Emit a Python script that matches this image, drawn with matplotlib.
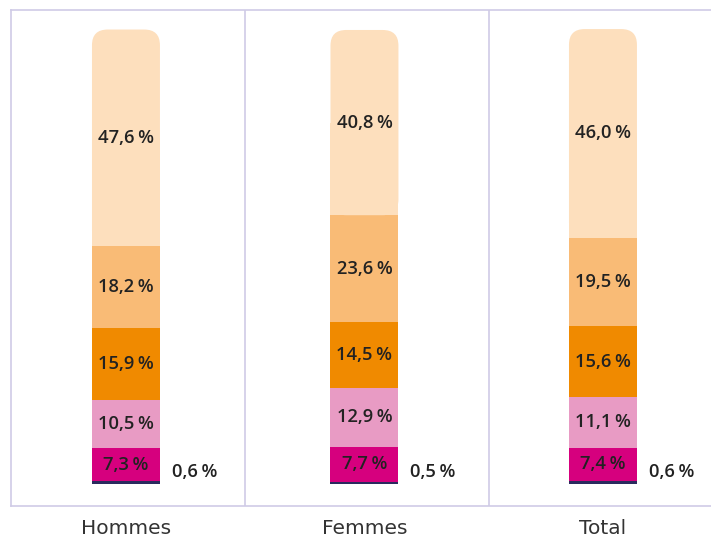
import matplotlib
matplotlib.use("Agg")
import matplotlib.pyplot as plt
from matplotlib.patches import FancyBboxPatch, Rectangle

categories = ["Hommes", "Femmes", "Total"]
# segments from bottom to top
navy = [0.6, 0.5, 0.6]
magenta = [7.3, 7.7, 7.4]
pink = [10.5, 12.9, 11.1]
orange = [15.9, 14.5, 15.6]
light_orange = [18.2, 23.6, 19.5]
pale = [47.6, 40.8, 46.0]

series = [navy, magenta, pink, orange, light_orange, pale]
colors = ["#2B2A5E", "#D6007E", "#E89BC4", "#F08A00", "#F9BB76", "#FDDFBD"]

def fmt(v):
    return f"{v:.1f}".replace(".", ",") + "\u202f%"

W, H = 711, 539
fig = plt.figure(figsize=(W / 100, H / 100), dpi=100)
ax = fig.add_axes([11 / W, (H - 506) / H, (711 - 11) / W, (506 - 10) / H])

bar_w = 0.285
ax.set_xlim(-0.482, 2.453)
ax.set_ylim(-4.85, 104.4)

txt_color = "#222222"
lab_font = ["Open Sans", "DejaVu Sans"]
cat_font = ["DejaVu Sans"]

for i, cat in enumerate(categories):
    bottom = 0.0
    n = len(series)
    for k, (vals, col) in enumerate(zip(series, colors)):
        v = vals[i]
        if k == n - 1:
            # rounded top segment
            r = 0.066
            asp = 3.45 / r
            p = FancyBboxPatch((i - bar_w / 2, bottom), bar_w, v,
                               boxstyle=f"round,pad=0,rounding_size={r}",
                               mutation_aspect=asp, facecolor=col,
                               edgecolor="none", zorder=2)
            ax.add_patch(p)
            ax.add_patch(Rectangle((i - bar_w / 2, bottom), bar_w, v / 2,
                                   facecolor=col, edgecolor="none", zorder=2))
        else:
            ax.bar(i, v, bar_w, bottom=bottom, color=col, zorder=2, linewidth=0)
        if k == 0:
            ax.text(i + bar_w / 2 + 0.05, bottom + 2.6, fmt(v), ha="left",
                    va="center", fontsize=13.2, color=txt_color,
                    family=lab_font, fontweight="semibold")
        else:
            ax.text(i, bottom + v / 2, fmt(v), ha="center", va="center",
                    fontsize=13.2, color=txt_color, family=lab_font,
                    fontweight="semibold", zorder=3)
        bottom += v

# panel separators
line_col = "#CFCBE6"
for xs in [0.499, 1.522]:
    ax.axvline(xs, color=line_col, linewidth=1.2, zorder=1)

for s in ["left", "top", "bottom"]:
    ax.spines[s].set_color(line_col)
    ax.spines[s].set_linewidth(1.2)
ax.spines["right"].set_visible(False)

ax.set_yticks([])
ax.set_xticks(range(len(categories)))
ax.set_xticklabels(categories, fontsize=14.5, color="#333333", family=cat_font)
ax.tick_params(axis="x", length=0, pad=9)

fig.savefig("out.png", dpi=100)
